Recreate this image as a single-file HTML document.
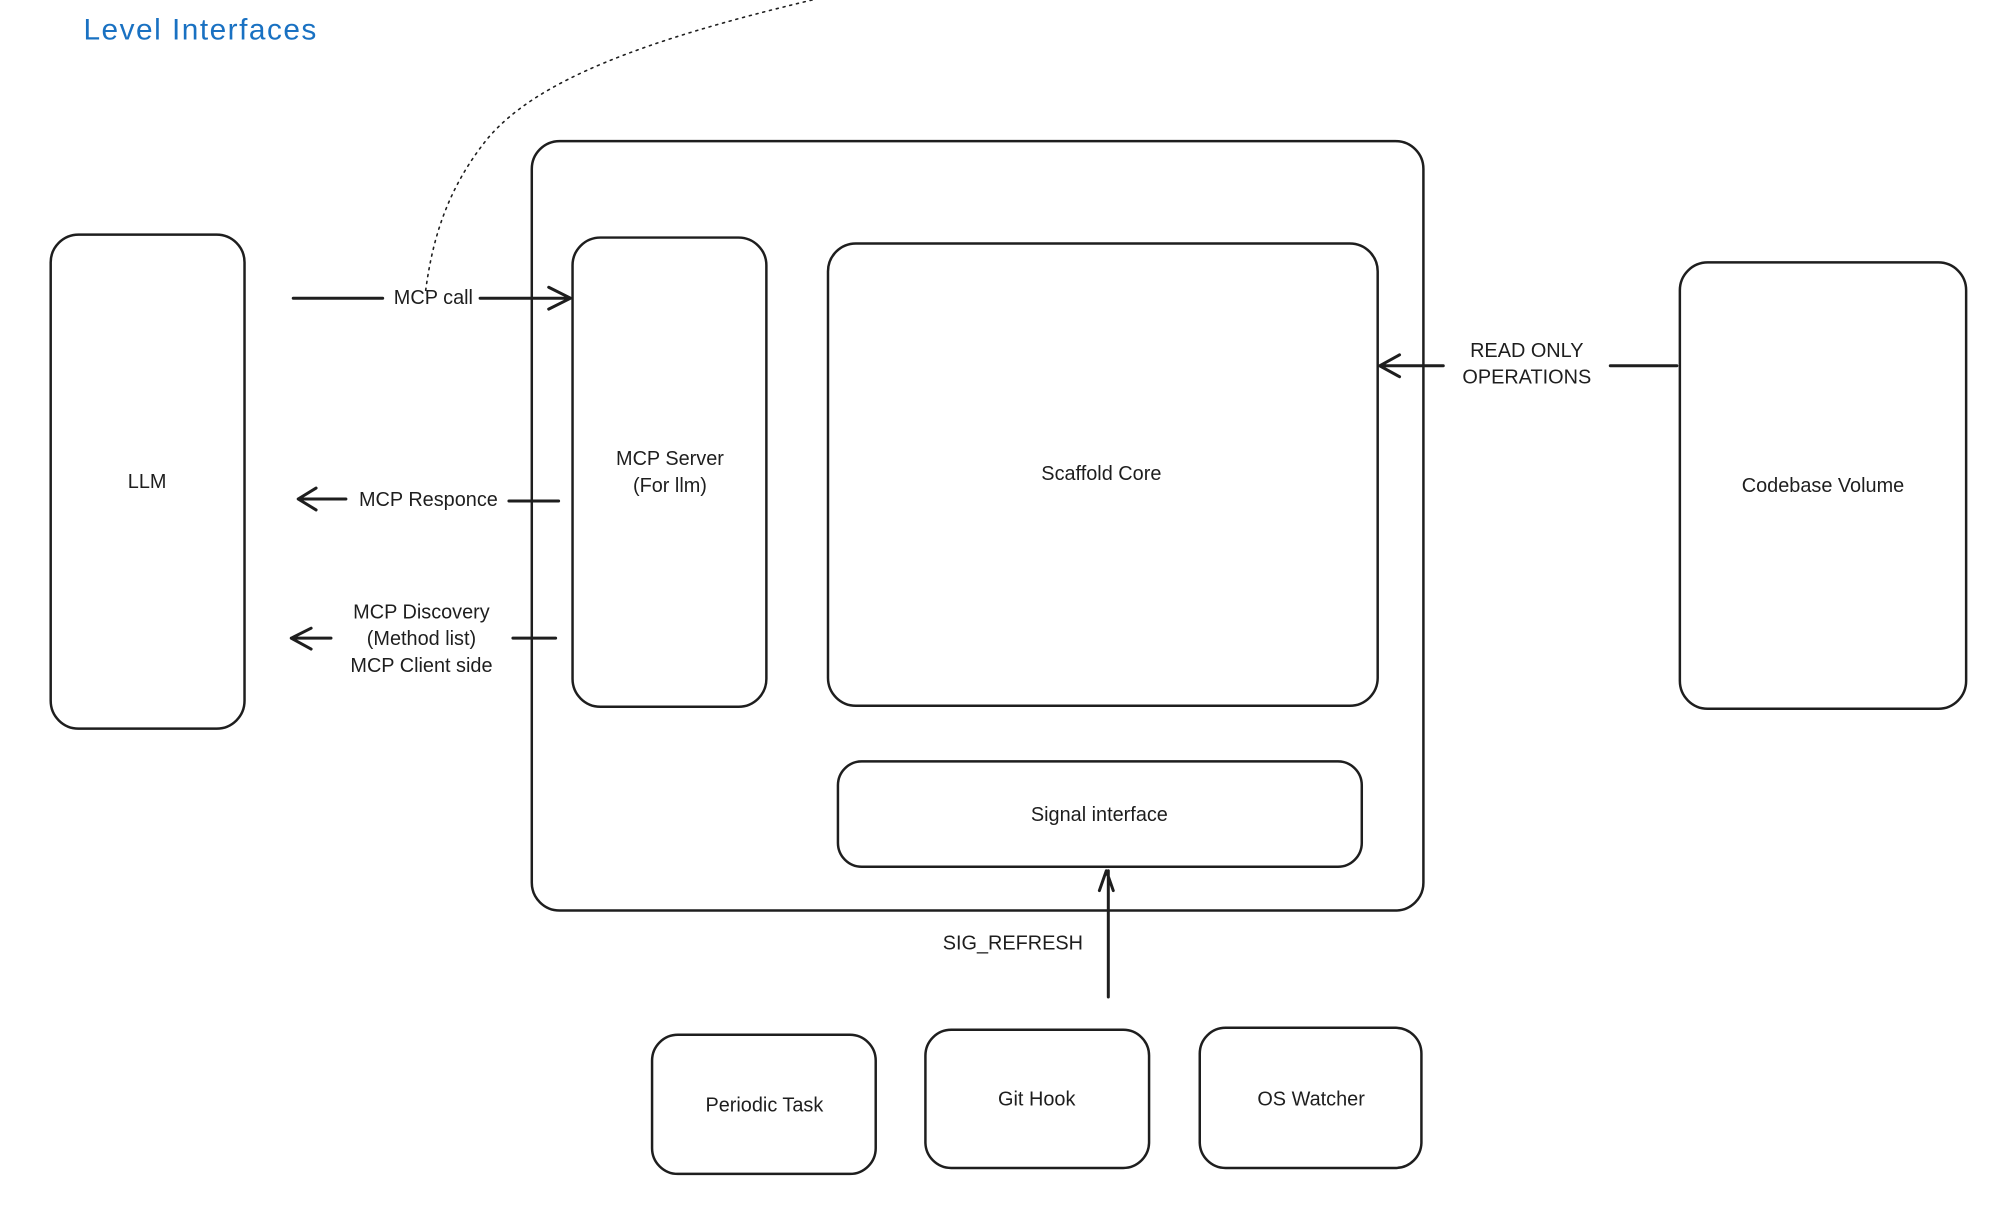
<!DOCTYPE html>
<html><head><meta charset="utf-8"><style>
html,body{margin:0;padding:0;background:#fff;}
svg{display:block;}
text{font-family:"Liberation Sans",sans-serif;font-size:20px;fill:#1e1e1e;text-anchor:middle;}
</style></head><body>
<svg width="1992" height="1206" viewBox="0 0 1992 1206" xmlns="http://www.w3.org/2000/svg">
<g transform="scale(0.994)">
<g fill="none" stroke="#1e1e1e" stroke-width="2.5" stroke-linecap="round" stroke-linejoin="round">
<rect x="535" y="142" width="897" height="774" rx="28"/>
<rect x="51" y="236" width="195" height="497" rx="28"/>
<rect x="576" y="239" width="195" height="472" rx="28"/>
<rect x="833" y="245" width="553" height="465" rx="28"/>
<rect x="1690" y="264" width="288" height="449" rx="28"/>
<rect x="843" y="766" width="527" height="106" rx="24"/>
<rect x="656" y="1041" width="225" height="140" rx="26"/>
<rect x="931" y="1036" width="225" height="139" rx="26"/>
<rect x="1207" y="1034" width="223" height="141" rx="26"/>
<path d="M295 300 H385 M483 300 H574 M552 289 L574 300 L552 311" stroke-width="3"/>
<path d="M300 502 H348 M318 491 L300 502 L318 513 M512 504 H562" stroke-width="3"/>
<path d="M293 642 H333 M313 632 L293 642 L313 653 M516 642 H559" stroke-width="3"/>
<path d="M1388 368 H1452 M1408 357 L1388 368 L1408 379 M1620 368 H1687" stroke-width="3"/>
<path d="M1115 1003 V876 M1106 896 L1113 876 L1120 896" stroke-width="3"/>
<path d="M817 0 C650 40 540 80 490 140 C450 190 435 240 428 294" stroke-width="1.6" stroke-dasharray="2 5"/>
</g>
<text x="84" y="40" style="font-size:30px;fill:#1971c2;text-anchor:start;letter-spacing:1.5px">Level Interfaces</text>
<text x="436" y="306">MCP call</text>
<text x="431" y="509">MCP Responce</text>
<text x="424" y="622">MCP Discovery</text>
<text x="424" y="649">(Method list)</text>
<text x="424" y="676">MCP Client side</text>
<text x="1536" y="359">READ ONLY</text>
<text x="1536" y="386">OPERATIONS</text>
<text x="1019" y="955">SIG_REFRESH</text>
<text x="148" y="491">LLM</text>
<text x="674" y="468">MCP Server</text>
<text x="674" y="495">(For llm)</text>
<text x="1108" y="483">Scaffold Core</text>
<text x="1834" y="495">Codebase Volume</text>
<text x="1106" y="826">Signal interface</text>
<text x="769" y="1118">Periodic Task</text>
<text x="1043" y="1112">Git Hook</text>
<text x="1319" y="1112">OS Watcher</text>
</g>
</svg>
</body></html>
